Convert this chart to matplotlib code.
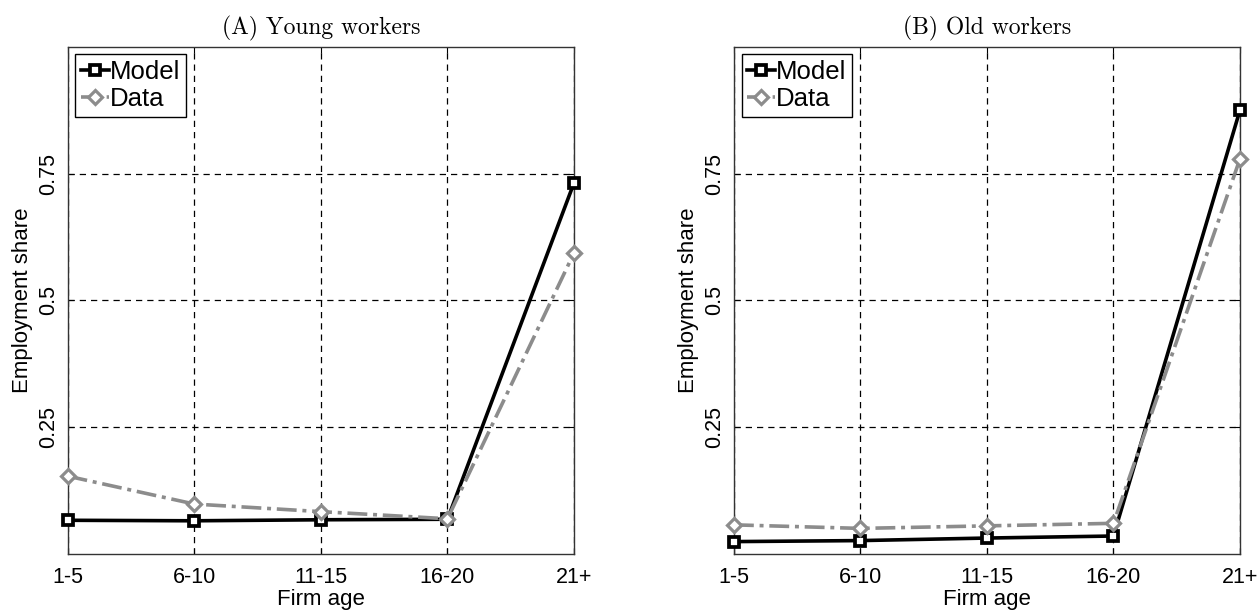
import numpy as np
import matplotlib.pyplot as plt


# 数据
categories = ["1-5", "6-10", "11-15", "16-20", "21+"]

young_model = [0.067, 0.066, 0.068, 0.069, 0.732]
young_data = [0.154, 0.099, 0.084, 0.070, 0.594]

old_model = [0.025, 0.027, 0.032, 0.036, 0.875]
old_data = [0.058, 0.051, 0.056, 0.061, 0.779]

panel_titles = ["(A) Young workers", "(B) Old workers"]
y_ticks = [0.25, 0.5, 0.75]
y_tick_labels = ["0.25", "0.5", "0.75"]

plt.rcParams["font.family"] = ["Liberation Sans", "DejaVu Sans"]
plt.rcParams["font.size"] = 15

fig = plt.figure(figsize=(12.6, 6.12), dpi=100)
ax_a = fig.add_axes([0.0537, 0.0943, 0.4019, 0.8294])
ax_b = fig.add_axes([0.5825, 0.0943, 0.4016, 0.8294])

x = np.arange(len(categories))
gray = "#8c8c8c"

for ax, model, data, title in zip([ax_a, ax_b],
                                  [young_model, old_model],
                                  [young_data, old_data],
                                  panel_titles):
    # 网格线
    ax.set_axisbelow(True)
    ax.grid(True, color="black", linestyle=(0, (5, 4)), linewidth=0.9)

    ax.plot(x, model,
            color="black",
            linewidth=2.6,
            marker="s",
            markersize=6.5,
            markerfacecolor="white",
            markeredgecolor="black",
            markeredgewidth=2.7,
            label="Model",
            clip_on=False,
            zorder=3)

    ax.plot(x, data,
            color=gray,
            linewidth=2.6,
            linestyle=(0, (5.5, 1.6, 1.1, 1.6)),
            marker="D",
            markersize=7.5,
            markerfacecolor="white",
            markeredgecolor=gray,
            markeredgewidth=2.3,
            label="Data",
            clip_on=False,
            zorder=4)

    ax.set_xlim(0, len(categories) - 1)
    ax.set_ylim(0, 1)
    ax.set_xticks(x)
    ax.set_xticklabels(categories)
    ax.set_yticks(y_ticks)
    ax.set_yticklabels(y_tick_labels, rotation=90, va="center")

    ax.tick_params(direction="in", top=True, right=True, length=4,
                   labelsize=15.5, pad=6)
    ax.tick_params(axis="x", pad=9)
    for spine in ax.spines.values():
        spine.set_linewidth(1.0)
        spine.set_color("#333333")

    ax.set_xlabel("Firm age", fontsize=16, labelpad=1)
    ax.set_ylabel("Employment share", fontsize=16, labelpad=4)
    ax.set_title(title, family="cmr10", fontsize=17, pad=9)

    ax.legend(loc="upper left",
              frameon=True,
              fancybox=False,
              edgecolor="black",
              framealpha=1,
              fontsize=18.5,
              handlelength=1.1,
              handletextpad=0.05,
              borderpad=0.2,
              labelspacing=0.15,
              borderaxespad=0.3)

plt.savefig("out.png", dpi=100)
